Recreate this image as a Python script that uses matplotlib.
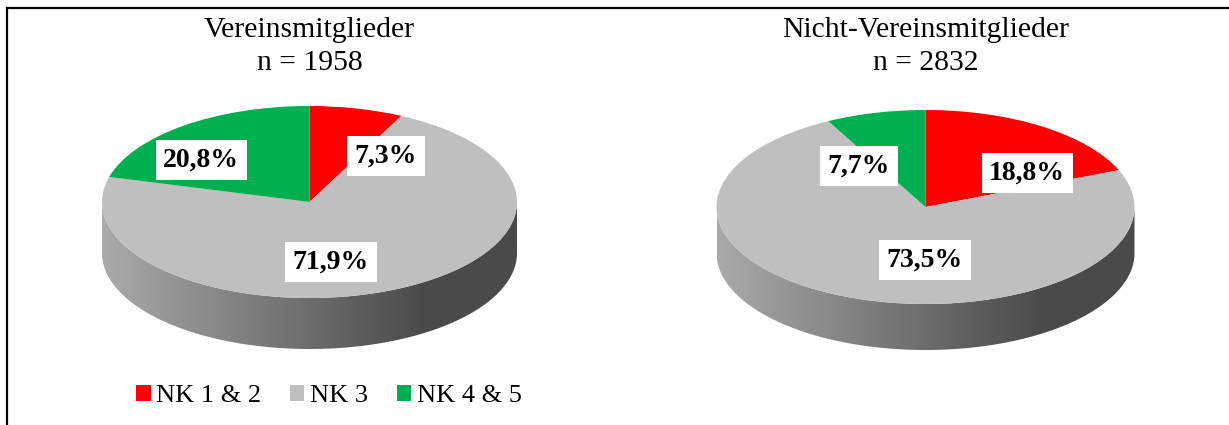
import numpy as np
import matplotlib
matplotlib.use("Agg")
import matplotlib.pyplot as plt
from matplotlib.patches import Polygon
from matplotlib.colors import LinearSegmentedColormap

plt.rcParams['font.family'] = ['Liberation Serif', 'DejaVu Serif']

categories = ["NK 1 & 2", "NK 3", "NK 4 & 5"]
colors = ["#FF0000", "#BFBFBF", "#00B050"]

titles = ["Vereinsmitglieder", "Nicht-Vereinsmitglieder"]
n_values = [1958, 2832]
members = [7.3, 71.9, 20.8]
non_members = [18.8, 73.5, 7.7]
series = [members, non_members]

W, H = 1229, 425
fig = plt.figure(figsize=(W / 100, H / 100), dpi=100)

# overlay axes in pixel coordinates (y downwards)
over = fig.add_axes([0, 0, 1, 1], zorder=5)
over.set_xlim(0, W)
over.set_ylim(H, 0)
over.axis('off')

# pie geometry in pixels: centre x, half width, top, face bottom, side bottom
geom = [(309.5, 207.5, 106, 298, 349), (925.5, 209, 110, 304, 350)]
label_pos = [
    [(386, 156), (331, 262), (201, 160)],
    [(1027, 173), (925, 260), (859, 166)],
]

side_cmap = LinearSegmentedColormap.from_list(
    "side", [(0, "#AAAAAA"), (0.78, "#4A4A4A"), (1, "#4A4A4A")])

wedges_for_legend = None
for k, vals in enumerate(series):
    cx, a, top, fb, sb = geom[k]
    b = (fb - top) / 2
    d = (sb - fb) / b
    ax = fig.add_axes([(cx - a) / W, 1 - sb / H, 2 * a / W, (sb - top) / H])

    wedges, _ = ax.pie(vals, colors=colors, startangle=90, counterclock=False,
                       radius=1, wedgeprops=dict(linewidth=0))
    for w in wedges:
        w.set_zorder(3)
    if wedges_for_legend is None:
        wedges_for_legend = wedges

    # side of the disc
    t = np.linspace(np.pi, 2 * np.pi, 300)
    upper = np.column_stack([np.cos(t), np.sin(t)])
    lower = np.column_stack([np.cos(t[::-1]), np.sin(t[::-1]) - d])
    side = Polygon(np.vstack([upper, lower]), closed=True, facecolor='none',
                   edgecolor='none')
    ax.add_patch(side)
    grad = np.linspace(0, 1, 256).reshape(1, -1)
    im = ax.imshow(grad, cmap=side_cmap, extent=(-1, 1, -1 - d, 0.1),
                   aspect='auto', zorder=1)
    im.set_clip_path(side)

    ax.set_aspect('auto')
    ax.set_xlim(-1, 1)
    ax.set_ylim(-1 - d, 1)
    ax.axis('off')

    over.text(cx, 30, titles[k], ha='center', va='center', fontsize=21.3)
    over.text(cx, 63, "n = %d" % n_values[k], ha='center', va='center', fontsize=21.3)

    for v, (lx, ly) in zip(vals, label_pos[k]):
        over.text(lx, ly, ("%.1f%%" % v).replace('.', ','), ha='center', va='center',
                  fontsize=20, fontweight='bold',
                  bbox=dict(boxstyle='square,pad=0.27', facecolor='white',
                            edgecolor='none'))

# border (top and left)
over.plot([7, 7, W], [H, 7.5, 7.5], color='black', linewidth=1.6,
          solid_joinstyle='miter', solid_capstyle='butt')

fig.legend(wedges_for_legend, categories, loc='center left',
           bbox_to_anchor=(136 / W, 1 - 396 / H), ncol=3, frameon=False,
           fontsize=19, handlelength=0.55, handleheight=0.55, handletextpad=0.2,
           columnspacing=1.1, borderpad=0, borderaxespad=0)

fig.savefig("out.png", dpi=100)
